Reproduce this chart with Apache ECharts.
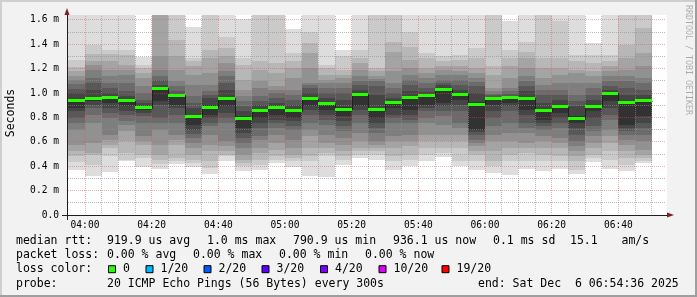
<!DOCTYPE html>
<html><head><meta charset="utf-8">
<script src="https://cdn.jsdelivr.net/npm/echarts@6/dist/echarts.min.js"></script>
<style>html,body{margin:0;padding:0;background:#f2f2f2}#c{width:697px;height:297px}</style>
</head><body><div id="c"></div>
<script>
// ---------- data ----------
const graphStart = '03:54:36';
const graphEnd = '06:54:36';
const stepMinutes = 5;
const columnTimes = ['03:55','04:00','04:05','04:10','04:15','04:20','04:25','04:30','04:35','04:40',
  '04:45','04:50','04:55','05:00','05:05','05:10','05:15','05:20','05:25','05:30',
  '05:35','05:40','05:45','05:50','05:55','06:00','06:05','06:10','06:15','06:20',
  '06:25','06:30','06:35','06:40','06:45'];
const medianMs = [0.940,0.954,0.965,0.938,0.880,1.041,0.981,0.807,0.880,0.956,
  0.791,0.861,0.883,0.853,0.954,0.913,0.867,0.992,0.864,0.921,
  0.967,0.978,1.033,0.992,0.910,0.956,0.967,0.959,0.853,0.888,
  0.791,0.891,0.997,0.924,0.936];
// 20 sorted ping times (ms) per column
const smokePings = [
 [0.365,0.436,0.482,0.528,0.578,0.700,0.755,0.796,0.850,0.877,0.950,1.000,1.033,1.074,1.109,1.136,1.177,1.210,1.272,1.75],
 [0.319,0.414,0.496,0.509,0.591,0.755,0.823,0.877,0.905,0.932,0.965,1.027,1.082,1.123,1.191,1.226,1.259,1.319,1.395,1.75],
 [0.354,0.482,0.550,0.578,0.618,0.659,0.796,0.836,0.877,0.918,0.973,1.000,1.041,1.082,1.136,1.191,1.259,1.319,1.354,1.75],
 [0.441,0.454,0.509,0.605,0.687,0.741,0.768,0.823,0.850,0.891,0.945,0.973,1.013,1.082,1.150,1.191,1.232,1.313,1.354,1.75],
 [0.392,0.469,0.496,0.578,0.605,0.646,0.755,0.809,0.836,0.864,0.896,0.918,0.945,1.000,1.054,1.123,1.164,1.204,1.232,1.295],
 [0.381,0.420,0.455,0.496,0.578,0.700,0.755,0.796,0.905,0.932,1.040,1.068,1.109,1.136,1.191,1.300,1.75,1.80,1.85,1.90],
 [0.419,0.441,0.469,0.578,0.618,0.659,0.755,0.823,0.877,0.905,0.973,0.990,1.013,1.054,1.095,1.190,1.300,1.436,1.75,1.80],
 [0.392,0.427,0.455,0.496,0.550,0.591,0.632,0.665,0.700,0.741,0.815,0.877,0.918,0.973,1.068,1.150,1.218,1.259,1.286,1.545],
 [0.340,0.387,0.441,0.523,0.578,0.659,0.727,0.755,0.796,0.823,0.905,0.960,0.981,1.013,1.068,1.164,1.286,1.354,1.70,1.75],
 [0.441,0.482,0.496,0.523,0.564,0.605,0.755,0.796,0.836,0.891,0.967,1.027,1.082,1.136,1.177,1.245,1.300,1.368,1.463,1.75],
 [0.359,0.400,0.427,0.455,0.496,0.550,0.591,0.632,0.673,0.714,0.809,0.850,0.891,0.932,0.973,1.027,1.109,1.232,1.286,1.605],
 [0.373,0.414,0.455,0.509,0.550,0.618,0.646,0.714,0.755,0.796,0.870,0.905,0.932,0.973,1.041,1.095,1.191,1.259,1.70,1.80],
 [0.427,0.455,0.482,0.537,0.591,0.659,0.714,0.755,0.782,0.823,0.891,0.918,0.960,1.000,1.027,1.054,1.164,1.245,1.70,1.80],
 [0.392,0.441,0.469,0.496,0.550,0.618,0.700,0.727,0.768,0.796,0.864,0.905,0.945,0.987,1.027,1.123,1.204,1.259,1.327,1.526],
 [0.319,0.441,0.482,0.550,0.646,0.700,0.755,0.823,0.864,0.891,0.965,1.000,1.041,1.063,1.082,1.204,1.327,1.409,1.504,1.75],
 [0.313,0.482,0.509,0.550,0.591,0.659,0.741,0.782,0.823,0.864,0.924,0.960,1.000,1.041,1.082,1.109,1.150,1.204,1.232,1.75],
 [0.414,0.455,0.482,0.523,0.578,0.632,0.687,0.727,0.768,0.809,0.883,0.945,1.000,1.041,1.082,1.123,1.150,1.191,1.300,1.354],
 [0.469,0.496,0.523,0.550,0.605,0.673,0.755,0.823,0.864,0.891,1.000,1.027,1.068,1.100,1.136,1.191,1.245,1.286,1.354,1.680],
 [0.455,0.496,0.523,0.550,0.578,0.605,0.673,0.714,0.755,0.796,0.877,0.987,1.054,1.095,1.117,1.136,1.177,1.204,1.66,1.75],
 [0.373,0.441,0.482,0.550,0.605,0.646,0.755,0.796,0.823,0.877,0.926,0.960,1.000,1.041,1.082,1.177,1.340,1.422,1.70,1.80],
 [0.400,0.455,0.496,0.564,0.605,0.659,0.755,0.782,0.823,0.864,0.978,1.013,1.068,1.109,1.150,1.204,1.272,1.381,1.504,1.75],
 [0.441,0.496,0.550,0.605,0.659,0.755,0.796,0.850,0.877,0.905,0.987,1.008,1.041,1.082,1.123,1.164,1.204,1.286,1.327,1.75],
 [0.477,0.509,0.550,0.605,0.659,0.741,0.809,0.850,0.891,0.918,1.041,1.063,1.082,1.109,1.150,1.191,1.218,1.259,1.300,1.75],
 [0.400,0.441,0.550,0.605,0.659,0.714,0.755,0.850,0.905,0.945,1.000,1.027,1.068,1.109,1.150,1.177,1.218,1.272,1.313,1.75],
 [0.373,0.441,0.496,0.523,0.564,0.591,0.618,0.659,0.680,0.700,0.924,1.000,1.054,1.090,1.123,1.164,1.204,1.286,1.368,1.75],
 [0.346,0.400,0.441,0.523,0.605,0.659,0.727,0.796,0.850,0.905,0.959,0.970,0.981,0.992,1.013,1.041,1.150,1.218,1.70,1.80],
 [0.332,0.441,0.496,0.550,0.605,0.673,0.755,0.850,0.891,0.918,0.967,0.978,0.992,1.013,1.041,1.123,1.218,1.286,1.354,1.588],
 [0.381,0.441,0.509,0.550,0.591,0.673,0.714,0.755,0.823,0.864,0.965,1.013,1.054,1.095,1.136,1.204,1.286,1.340,1.422,1.75],
 [0.359,0.441,0.496,0.550,0.605,0.646,0.700,0.727,0.755,0.782,0.864,0.918,0.987,1.027,1.068,1.123,1.204,1.286,1.70,1.80],
 [0.381,0.441,0.482,0.550,0.591,0.632,0.714,0.755,0.796,0.836,0.905,0.945,0.987,1.027,1.082,1.150,1.204,1.286,1.588,1.75],
 [0.340,0.373,0.441,0.482,0.523,0.564,0.605,0.659,0.714,0.754,0.809,0.891,0.932,0.987,1.082,1.164,1.191,1.259,1.313,1.75],
 [0.436,0.469,0.496,0.550,0.591,0.646,0.687,0.727,0.796,0.850,0.899,0.945,0.987,1.041,1.082,1.136,1.177,1.245,1.313,1.409],
 [0.381,0.455,0.523,0.591,0.646,0.700,0.782,0.823,0.877,0.932,1.005,1.027,1.054,1.095,1.136,1.177,1.218,1.259,1.313,1.75],
 [0.359,0.414,0.469,0.523,0.578,0.618,0.659,0.687,0.714,0.741,0.932,0.987,1.041,1.095,1.136,1.191,1.286,1.395,1.70,1.80],
 [0.427,0.446,0.469,0.496,0.537,0.605,0.659,0.714,0.755,0.809,0.954,0.987,1.027,1.082,1.123,1.218,1.327,1.531,1.70,1.80]
];
const xTickLabels = ['04:00','04:20','04:40','05:00','05:20','05:40','06:00','06:20','06:40'];
const yTickLabels = ['0.0','0.2 m','0.4 m','0.6 m','0.8 m','1.0 m','1.2 m','1.4 m','1.6 m'];
const yAxisMax = 1.64;
const yAxisTitle = 'Seconds';
const watermarkText = 'RRDTOOL / TOBI OETIKER';
const rowLabels = ['median rtt:', 'packet loss:', 'loss color:', 'probe:'];
const rttStats = ['919.9 us avg', '1.0 ms max', '790.9 us min', '936.1 us now', '0.1 ms sd', '15.1', 'am/s'];
const lossStats = ['0.00 % avg', '0.00 % max', '0.00 % min', '0.00 % now'];
const lossColorNames = ['0', '1/20', '2/20', '3/20', '4/20', '10/20', '19/20'];
const lossColorValues = ['#26ff00', '#00b8ff', '#0059ff', '#5e00ff', '#7e00ff', '#dd00ff', '#ff0000'];
const probeText = '20 ICMP Echo Pings (56 Bytes) every 300s';
const endText = 'end: Sat Dec  6 06:54:36 2025';

// ---------- layout / style ----------
const PL = 67, PT = 15, PW = 600, PH = 200;
const MONO = '"DejaVu Sans Mono", monospace';
const LEG_FONT = 11.5, AX_FONT = 9.6;
const rowY = [241.5, 255.3, 269.2, 283.7];
const rttX = [107, 207, 293, 393, 493, 570, 621.5];
const lossX = [107, 193, 279, 365];
const boxX = [108, 145.5, 203.5, 261.5, 320, 378.5, 441.5];
const probeX = 107, endX = 478;
const GRID_MINOR = 'rgba(143,143,143,0.6)';
const GRID_MAJOR = 'rgba(222,79,79,0.45)';
const AXIS_COL = '#1f1f1f';
const ARROW_COL = '#801f1f';
const majorMin = 20;

function toMin(s) { const a = s.split(':').map(Number); return a[0] * 60 + a[1] + (a[2] || 0) / 60; }
const tStart = toMin(graphStart), tEnd = toMin(graphEnd);
const pxPerMin = PW / (tEnd - tStart);
const gStart = toMin(xTickLabels[0]);
const gMajEnd = toMin(xTickLabels[xTickLabels.length - 1]);
const gEnd = toMin(columnTimes[columnTimes.length - 1]) + stepMinutes;
const yMajors = yTickLabels.map(l => parseFloat(l));
const yLabTop = yMajors[yMajors.length - 1];

const colData = columnTimes.map((t, i) => [toMin(t), toMin(t) + stepMinutes].concat(smokePings[i]));
const medData = columnTimes.map((t, i) => [toMin(t), toMin(t) + stepMinutes, medianMs[i], i]);
// grid line positions derived from the tick arrays: [value, isMajor]
const vLines = [];
for (let k = 0; gStart + k * stepMinutes <= gEnd + 1e-9; k++) vLines.push([gStart + k * stepMinutes, (k * stepMinutes) % majorMin === 0 ? 1 : 0]);
const hLines = [];
yMajors.forEach((v, i) => {
  if (i > 0) hLines.push([v, 1]);
  if (i + 1 < yMajors.length) hLines.push([(v + yMajors[i + 1]) / 2, 0]);
});

function gray(ib) { const g = Math.floor(190 / 10 * (10 - ib)) + 50; return 'rgb(' + g + ',' + g + ',' + g + ')'; }

const chart = echarts.init(document.getElementById('c'), null, { renderer: 'canvas' });

const graphic = [];
graphic.push({ type: 'rect', shape: { x: 0, y: 0, width: 697, height: 2 }, style: { fill: '#cfcfcf' }, silent: true });
graphic.push({ type: 'rect', shape: { x: 0, y: 0, width: 2, height: 297 }, style: { fill: '#cfcfcf' }, silent: true });
graphic.push({ type: 'rect', shape: { x: 0, y: 295, width: 697, height: 2 }, style: { fill: '#9e9e9e' }, silent: true });
graphic.push({ type: 'rect', shape: { x: 695, y: 0, width: 2, height: 297 }, style: { fill: '#9e9e9e' }, silent: true });
graphic.push({ type: 'line', shape: { x1: PL - 5, y1: PT + PH + 0.5, x2: PL, y2: PT + PH + 0.5 }, style: { stroke: AXIS_COL, lineWidth: 1 }, silent: true });
graphic.push({ type: 'line', shape: { x1: PL + 0.5, y1: PT + PH, x2: PL + 0.5, y2: PT + PH + 5 }, style: { stroke: AXIS_COL, lineWidth: 1 }, silent: true });
graphic.push({ type: 'text', x: 688.5, y: 60, rotation: -Math.PI / 2,
  style: { text: watermarkText, fill: 'rgba(0,0,0,0.3)', font: '8.3px ' + MONO, align: 'center', verticalAlign: 'middle' } });
graphic.push({ type: 'text', x: 11, y: 113, rotation: Math.PI / 2,
  style: { text: yAxisTitle, fill: '#000', font: LEG_FONT + 'px ' + MONO, align: 'center', verticalAlign: 'middle' } });
function txt(s, x, y) {
  return { type: 'text', x: x, y: y, style: { text: s, fill: '#000', font: LEG_FONT + 'px ' + MONO, align: 'left', verticalAlign: 'middle' } };
}
rowLabels.forEach((s, i) => graphic.push(txt(s, 16, rowY[i])));
rttStats.forEach((s, i) => graphic.push(txt(s, rttX[i], rowY[0])));
lossStats.forEach((s, i) => graphic.push(txt(s, lossX[i], rowY[1])));
lossColorNames.forEach((s, i) => {
  graphic.push({ type: 'rect', shape: { x: boxX[i] + 0.5, y: rowY[2] - 3.5, width: 7, height: 7 },
    style: { fill: lossColorValues[i], stroke: '#000', lineWidth: 1 } });
  graphic.push(txt(s, boxX[i] + 15, rowY[2]));
});
graphic.push(txt(probeText, probeX, rowY[3]));
graphic.push(txt(endText, endX, rowY[3]));

const gridBase = { containLabel: false, outerBoundsMode: 'none' };
const hidden = { axisLine: { show: false }, axisTick: { show: false }, splitLine: { show: false }, minorSplitLine: { show: false } };

// dotted line (1px on / 1px off) as a set of pixel squares
function dots(x0, y0, n, horizontal, color) {
  let d = '';
  for (let j = 0; j < n; j++) {
    const x = horizontal ? x0 + 2 * j : x0, y = horizontal ? y0 : y0 + 2 * j;
    d += 'M' + x + ' ' + y + 'h1v1h-1z';
  }
  const w = horizontal ? 2 * n - 1 : 1, h = horizontal ? 1 : 2 * n - 1;
  return { type: 'path', shape: { pathData: d, x: x0, y: y0, width: w, height: h }, style: { fill: color, stroke: null } };
}

const option = {
  animation: false,
  backgroundColor: '#f2f2f2',
  grid: [
    Object.assign({ left: PL, top: PT, width: PW, height: PH, show: true, backgroundColor: '#ffffff', borderWidth: 0 }, gridBase),
    Object.assign({ left: PL + (gStart - tStart) * pxPerMin, top: PT, width: (gMajEnd - gStart) * pxPerMin, height: PH }, gridBase),
    Object.assign({ left: PL, top: PT + (yAxisMax - yLabTop) / yAxisMax * PH, width: PW, height: yLabTop / yAxisMax * PH }, gridBase)
  ],
  xAxis: [
    { gridIndex: 0, type: 'value', min: tStart, max: tEnd, position: 'bottom', z: 6,
      axisLine: { show: true, onZero: false, lineStyle: { color: AXIS_COL, width: 1 } },
      axisTick: { show: false }, axisLabel: { show: false }, splitLine: { show: false } },
    { gridIndex: 0, type: 'value', min: tStart, max: tEnd, position: 'bottom', z: 7,
      axisLine: { show: true, onZero: false, symbol: ['none', 'triangle'], symbolSize: [5, 7], symbolOffset: [0, 3.5],
        lineStyle: { color: ARROW_COL, width: 0 } },
      axisTick: { show: false }, axisLabel: { show: false }, splitLine: { show: false } },
    Object.assign({ gridIndex: 1, type: 'value', min: gStart, max: gMajEnd, interval: majorMin, position: 'bottom', z: 3,
      axisLabel: { show: true, margin: 5, color: '#000', fontFamily: MONO, fontSize: AX_FONT,
        formatter: function (v) { return xTickLabels[Math.round((v - gStart) / majorMin)] || ''; } } }, hidden),
    { gridIndex: 2, type: 'value', show: false, min: 0, max: 1 }
  ],
  yAxis: [
    { gridIndex: 0, type: 'value', min: 0, max: yAxisMax, position: 'left', z: 6,
      axisLine: { show: true, onZero: false, lineStyle: { color: AXIS_COL, width: 1 } },
      axisTick: { show: false }, axisLabel: { show: false }, splitLine: { show: false } },
    { gridIndex: 0, type: 'value', min: 0, max: yAxisMax, position: 'left', z: 7,
      axisLine: { show: true, onZero: false, symbol: ['none', 'triangle'], symbolSize: [5, 7], symbolOffset: [0, 3.5],
        lineStyle: { color: ARROW_COL, width: 0 } },
      axisTick: { show: false }, axisLabel: { show: false }, splitLine: { show: false } },
    { gridIndex: 1, type: 'value', show: false, min: 0, max: 1 },
    Object.assign({ gridIndex: 2, type: 'value', min: 0, max: yLabTop, interval: yMajors[1], position: 'left', z: 3,
      axisLabel: { show: true, margin: 8, color: '#000', fontFamily: MONO, fontSize: AX_FONT,
        formatter: function (v) { return yTickLabels[Math.round(v / yMajors[1])] || ''; } } }, hidden)
  ],
  series: [
    { type: 'custom', name: 'smoke', xAxisIndex: 0, yAxisIndex: 0, z: 1, silent: true, clip: true,
      data: colData,
      renderItem: function (params, api) {
        const t0 = api.value(0), t1 = api.value(1);
        const xa = Math.round(api.coord([t0, 0])[0]);
        const xb = Math.round(api.coord([t1, 0])[0]);
        const n = smokePings[params.dataIndex].length;
        const children = [];
        for (let k = 0; k < n - 1; k++) {
          const lo = Math.min(api.value(k + 2), yAxisMax), hi = Math.min(api.value(k + 3), yAxisMax);
          if (hi <= lo) continue;
          const ya = Math.round(api.coord([t0, lo])[1]);
          const yb = Math.round(api.coord([t0, hi])[1]);
          if (ya <= yb) continue;
          const ib = Math.min(k + 1, n - 1 - k);
          children.push({ type: 'rect', shape: { x: xa, y: yb, width: xb - xa, height: ya - yb }, style: { fill: gray(ib) } });
        }
        return { type: 'group', children: children };
      } },
    { type: 'custom', name: 'vgrid', xAxisIndex: 0, yAxisIndex: 0, z: 3, silent: true,
      data: vLines,
      renderItem: function (params, api) {
        const t = vLines[params.dataIndex][0], major = vLines[params.dataIndex][1];
        const x = Math.floor(api.coord([t, 0])[0] + 0.01);
        const yTop = Math.round(api.coord([t, yAxisMax])[1]);
        const yBot = Math.round(api.coord([t, 0])[1]);
        return dots(x, yTop + 1, Math.floor((yBot - yTop - 1) / 2), false, major ? GRID_MAJOR : GRID_MINOR);
      } },
    { type: 'custom', name: 'hgrid', xAxisIndex: 0, yAxisIndex: 0, z: 3, silent: true,
      data: hLines,
      renderItem: function (params, api) {
        const v = hLines[params.dataIndex][0], major = hLines[params.dataIndex][1];
        const y = Math.floor(api.coord([tStart, v])[1]);
        const x0 = Math.round(api.coord([tStart, v])[0]) + 1;
        const x1 = Math.round(api.coord([tEnd, v])[0]);
        return dots(x0, y, Math.floor((x1 - x0) / 2), true, major ? GRID_MAJOR : GRID_MINOR);
      } },
    { type: 'custom', name: 'median line', xAxisIndex: 0, yAxisIndex: 0, z: 4, silent: true,
      data: medData,
      renderItem: function (params, api) {
        const i = api.value(3);
        const xa = Math.round(api.coord([api.value(0), 0])[0]);
        const xb = Math.round(api.coord([api.value(1), 0])[0]);
        const ym = Math.round(api.coord([api.value(0), api.value(2)])[1]) + 0.5;
        const pts = [[xa, ym], [xb + 0.5, ym]];
        if (i + 1 < medianMs.length) {
          const yn = Math.round(api.coord([api.value(1), medianMs[i + 1]])[1]) + 0.5;
          pts.push([xb + 0.5, yn]);
        }
        return { type: 'polyline', shape: { points: pts }, style: { stroke: '#202020', lineWidth: 1, fill: null } };
      } },
    { type: 'custom', name: 'median', xAxisIndex: 0, yAxisIndex: 0, z: 5, silent: true,
      data: medData,
      renderItem: function (params, api) {
        const xa = Math.round(api.coord([api.value(0), 0])[0]);
        const xb = Math.round(api.coord([api.value(1), 0])[0]);
        const ym = api.coord([api.value(0), api.value(2)])[1];
        const y0 = Math.round(ym - 1.5);
        return { type: 'rect', shape: { x: xa, y: y0, width: xb - xa, height: 3 }, style: { fill: lossColorValues[0] } };
      } }
  ],
  graphic: graphic
};
chart.setOption(option);
</script>
</body></html>
